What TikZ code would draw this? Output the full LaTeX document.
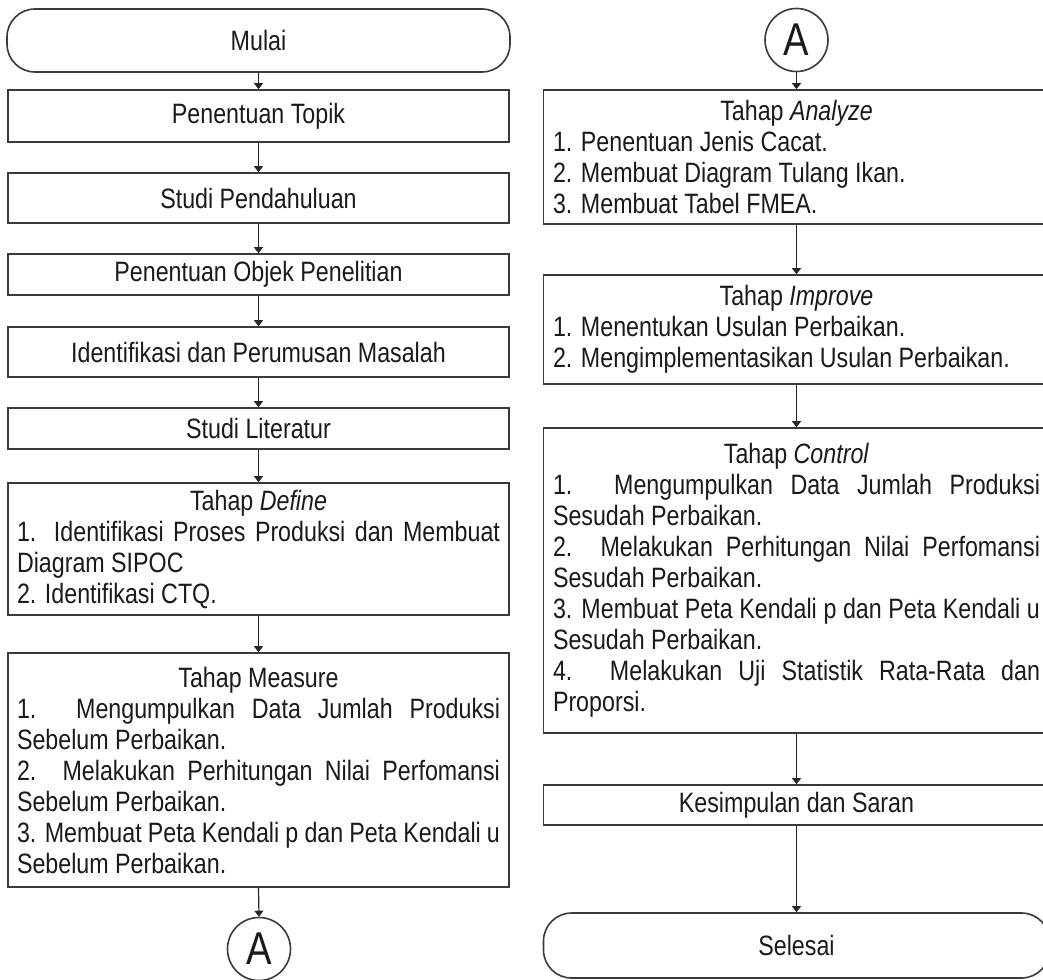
\documentclass[tikz,border=0pt]{standalone}
\usepackage{fontspec}
\setmainfont{Liberation Sans}[FakeStretch=0.83]
\usetikzlibrary{arrows.meta}
\newcommand{\JL}[2]{\makebox[#1][s]{#2}}
\newcommand{\LL}[2]{\makebox[#1][l]{#2}}
\newcommand{\CL}[2]{\makebox[#1][c]{#2}}
\definecolor{edge}{HTML}{3A3A3A}
\definecolor{ink}{HTML}{1A1A1A}
\tikzset{
  base/.style={draw=edge, line width=1.6pt, text=ink, inner sep=0pt,
    font=\fontsize{28}{31}\selectfont, align=center},
  lbox/.style={base, rectangle, minimum width=501pt},
  rbox/.style={base, rectangle, minimum width=506pt},
  lterm/.style={base, rectangle, rounded corners=28pt, minimum width=503pt},
  rterm/.style={base, rectangle, rounded corners=28pt, minimum width=506pt},
  conn/.style={draw=edge, line width=1.6pt, circle, minimum size=63pt, inner sep=0pt,
    text=ink, font=\fontsize{46}{46}\selectfont},
  arr/.style={draw=black!85, line width=1.2pt, -{Triangle[length=6pt,width=9pt]}}
}
\begin{document}
\begin{tikzpicture}[x=1pt,y=-1pt]
\useasboundingbox (0,0) rectangle (1043,979);
\fill[white] (0,0) rectangle (1043,979);
\clip (0,0) rectangle (1043,979);
% left column
\node[lterm, minimum height=63pt] (mulai) at (258.5,40.5) {Mulai};
\node[lbox, minimum height=52pt] (topik) at (258.5,116) {Penentuan Topik};
\node[lbox, minimum height=50pt] (pend) at (258.5,198) {Studi Pendahuluan};
\node[lbox, minimum height=41pt] (objek) at (258.5,274.5) {Penentuan Objek Penelitian};
\node[lbox, minimum height=50pt] (ident) at (258.5,352) {Identifikasi dan Perumusan Masalah};
\node[lbox, minimum height=41pt] (lit) at (258.5,428.5) {Studi Literatur};
\node[lbox, minimum height=132pt] (define) at (258.5,549) {%
  \CL{483pt}{Tahap \textit{Define}}\\
  \JL{483pt}{1. Identifikasi Proses Produksi dan Membuat}\\
  \LL{483pt}{Diagram SIPOC}\\
  \LL{483pt}{2. Identifikasi CTQ.}};
\node[lbox, minimum height=234pt] (measure) at (258.5,770) {%
  \CL{483pt}{Tahap Measure}\\
  \JL{483pt}{1. Mengumpulkan Data Jumlah Produksi}\\
  \LL{483pt}{Sebelum Perbaikan.}\\
  \JL{483pt}{2. Melakukan Perhitungan Nilai Perfomansi}\\
  \LL{483pt}{Sebelum Perbaikan.}\\
  \JL{483pt}{3. Membuat Peta Kendali p dan Peta Kendali u}\\
  \LL{483pt}{Sebelum Perbaikan.}};
\node[conn] (a1) at (259,949) {A};
% right column
\node[conn] (a2) at (796.5,40) {A};
\node[rbox, minimum height=134pt] (analyze) at (796.5,157) {%
  \CL{487pt}{Tahap \textit{Analyze}}\\
  \LL{487pt}{1. Penentuan Jenis Cacat.}\\
  \LL{487pt}{2. Membuat Diagram Tulang Ikan.}\\
  \LL{487pt}{3. Membuat Tabel FMEA.}};
\node[rbox, minimum height=109pt] (improve) at (796.5,329.5) {%
  \CL{487pt}{Tahap \textit{Improve}}\\
  \LL{487pt}{1. Menentukan Usulan Perbaikan.}\\
  \LL{487pt}{2. Mengimplementasikan Usulan Perbaikan.}};
\node[rbox, minimum height=305pt] (control) at (796.5,580.5) {%
  \CL{487pt}{Tahap \textit{Control}}\\
  \JL{487pt}{1. Mengumpulkan Data Jumlah Produksi}\\
  \LL{487pt}{Sesudah Perbaikan.}\\
  \JL{487pt}{2. Melakukan Perhitungan Nilai Perfomansi}\\
  \LL{487pt}{Sesudah Perbaikan.}\\
  \JL{487pt}{3. Membuat Peta Kendali p dan Peta Kendali u}\\
  \LL{487pt}{Sesudah Perbaikan.}\\
  \JL{487pt}{4. Melakukan Uji Statistik Rata-Rata dan}\\
  \LL{487pt}{Proporsi.}};
\node[rbox, minimum height=40pt] (kes) at (796.5,805) {Kesimpulan dan Saran};
\node[rterm, minimum height=65pt] (selesai) at (796.5,945.5) {Selesai};
% connectors
\draw[arr] (mulai.south) -- (topik.north);
\draw[arr] (topik.south) -- (pend.north);
\draw[arr] (pend.south) -- (objek.north);
\draw[arr] (objek.south) -- (ident.north);
\draw[arr] (ident.south) -- (lit.north);
\draw[arr] (lit.south) -- (define.north);
\draw[arr] (define.south) -- (measure.north);
\draw[arr] (measure.south) -- (a1.north);
\draw[arr] (a2.south) -- (analyze.north);
\draw[arr] (analyze.south) -- (improve.north);
\draw[arr] (improve.south) -- (control.north);
\draw[arr] (control.south) -- (kes.north);
\draw[arr] (kes.south) -- (selesai.north);
\end{tikzpicture}
\end{document}
